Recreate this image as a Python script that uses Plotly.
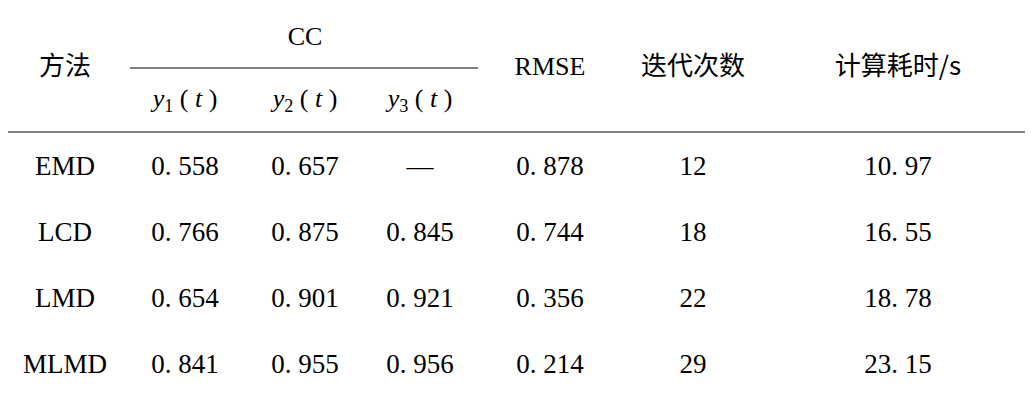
import plotly.graph_objects as go

methods = ['EMD', 'LCD', 'LMD', 'MLMD']
cc_y1 = ['0. 558', '0. 766', '0. 654', '0. 841']
cc_y2 = ['0. 657', '0. 875', '0. 901', '0. 955']
cc_y3 = ['—', '0. 845', '0. 921', '0. 956']
rmse = ['0. 878', '0. 744', '0. 356', '0. 214']
iterations = ['12', '18', '22', '29']
time_cost = ['10. 97', '16. 55', '18. 78', '23. 15']

sub_headers = ['<i>y</i><sub>1</sub> ( <i>t</i> )', '<i>y</i><sub>2</sub> ( <i>t</i> )', '<i>y</i><sub>3</sub> ( <i>t</i> )']

W, H = 1033, 401
PAD = 8  # page body margin
col_x = [65, 185, 305, 420, 550, 693, 898]
row_y = [168, 234, 300, 366]

LATIN = 'Liberation Serif'
CJK = 'Noto Sans CJK SC'

fig = go.Figure()

columns = [methods, cc_y1, cc_y2, cc_y3, rmse, iterations, time_cost]
xs, ys, texts = [], [], []
for cx, col in zip(col_x, columns):
    for ry, val in zip(row_y, col):
        xs.append(cx)
        ys.append(ry)
        texts.append(val)
fig.add_trace(go.Scatter(x=xs, y=ys, text=texts, mode='text',
                         textfont=dict(family=LATIN, size=27, color='black'),
                         hoverinfo='skip'))

# header
fig.add_trace(go.Scatter(x=[col_x[0], col_x[5], col_x[6]], y=[68, 68, 68],
                         text=['方法', '迭代次数', '计算耗时/s'], mode='text',
                         textfont=dict(family=CJK, size=26, color='black'),
                         hoverinfo='skip'))
fig.add_trace(go.Scatter(x=[305, col_x[4]], y=[38, 68], text=['CC', 'RMSE'], mode='text',
                         textfont=dict(family=LATIN, size=26, color='black'),
                         hoverinfo='skip'))
fig.add_trace(go.Scatter(x=col_x[1:4], y=[100] * 3, text=sub_headers, mode='text',
                         textfont=dict(family=LATIN, size=26, color='black'),
                         hoverinfo='skip'))

fig.add_shape(type='line', x0=0, x1=W, y0=3, y1=3, line=dict(color='black', width=3))
fig.add_shape(type='line', x0=130, x1=478, y0=68, y1=68, line=dict(color='black', width=1.2))
fig.add_shape(type='line', x0=0, x1=W, y0=132, y1=132, line=dict(color='black', width=1.2))
fig.add_shape(type='line', x0=0, x1=W, y0=397, y1=397, line=dict(color='black', width=3))

fig.update_layout(
    width=W - 2 * PAD, height=H - 2 * PAD, margin=dict(l=0, r=0, t=0, b=0),
    showlegend=False, plot_bgcolor='white', paper_bgcolor='white',
    xaxis=dict(range=[PAD, W - PAD], visible=False, fixedrange=True),
    yaxis=dict(range=[H - PAD, PAD], visible=False, fixedrange=True),
)

fig.write_html("out.html")
